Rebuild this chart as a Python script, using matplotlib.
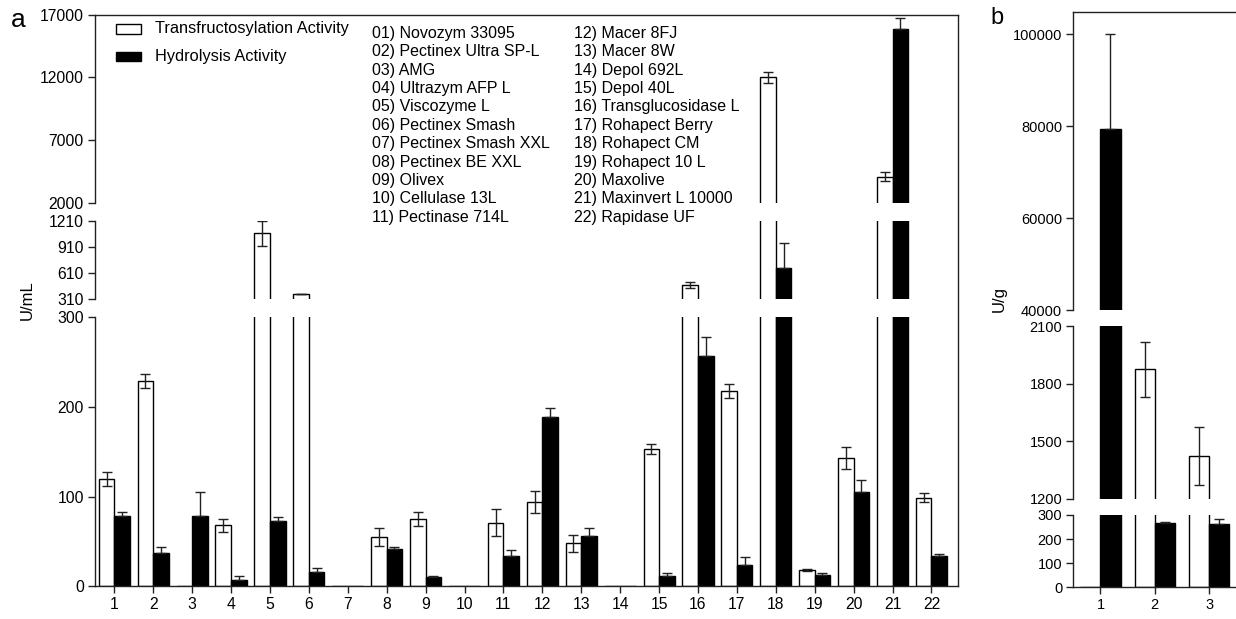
import numpy as np
import matplotlib
matplotlib.use("Agg")
import matplotlib.pyplot as plt
from matplotlib.lines import Line2D
from matplotlib.patches import Rectangle

plt.rcParams['font.family'] = ['Liberation Sans', 'DejaVu Sans']

W, H = 1236, 619

# panel a: 22 enzyme preparations (U/mL)
enzymes = ["Novozym 33095", "Pectinex Ultra SP-L", "AMG", "Ultrazym AFP L",
           "Viscozyme L", "Pectinex Smash", "Pectinex Smash XXL", "Pectinex BE XXL",
           "Olivex", "Cellulase 13L", "Pectinase 714L", "Macer 8FJ", "Macer 8W",
           "Depol 692L", "Depol 40L", "Transglucosidase L", "Rohapect Berry",
           "Rohapect CM", "Rohapect 10 L", "Maxolive", "Maxinvert L 10000",
           "Rapidase UF"]
trans = np.array([120, 229, 0, 68, 1065, 370, 0, 55, 75, 0, 71, 94, 48, 0,
                  153, 475, 218, 12000, 18, 143, 4100, 99])
trans_err = np.array([8, 8, 0, 7, 145, 5, 0, 10, 8, 0, 15, 12, 9.5, 0,
                      6, 30, 7.5, 450, 1, 12, 350, 4.5])
hydro = np.array([78, 37, 78, 7, 73, 16, 0, 42, 10.5, 0, 34, 189, 56, 0,
                  12, 257, 24, 670, 12.5, 105, 15900, 34])
hydro_err = np.array([5, 7, 27, 4, 4, 4, 0, 2, 1.5, 0, 6, 10, 9, 0,
                      3, 21, 9, 285, 2.5, 13, 850, 2])

# panel b: 3 samples (U/g)
b_trans = np.array([0, 1874, 1424])
b_trans_err = np.array([0, 145, 150])
b_hydro = np.array([79300, 268, 264])
b_hydro_err = np.array([20700, 2, 19])

legend_labels = ["Transfructosylation Activity", "Hydrolysis Activity"]

fig = plt.figure(figsize=(W / 100, H / 100), dpi=100)


def px_axes(x0, x1, ytop, ybot):
    return fig.add_axes([x0 / W, 1 - ybot / H, (x1 - x0) / W, (ybot - ytop) / H])


def draw_bars(ax, pos, w, t, te, h, he):
    ax.bar(pos - w / 2, t, w, color='white', edgecolor='black', linewidth=1)
    ax.bar(pos + w / 2, h, w, color='black', edgecolor='black', linewidth=1)
    m = te > 0
    ax.errorbar(pos[m] - w / 2, t[m], yerr=te[m], fmt='none', ecolor='#222222',
                elinewidth=1, capsize=3.4, capthick=1)
    # black bars: only the upper half of the error bar shows
    m = he > 0
    ax.errorbar(pos[m] + w / 2, h[m], yerr=[np.zeros(m.sum()), he[m]], fmt='none',
                ecolor='#222222', elinewidth=1, capsize=3.4, capthick=1)


def style(ax, which, ylim, yticks, xlim, fs):
    ax.set_ylim(*ylim)
    ax.set_yticks(yticks)
    ax.set_xlim(*xlim)
    ax.spines['right'].set_visible(False)
    ax.spines['top'].set_visible(which == 'top')
    ax.spines['bottom'].set_visible(which == 'bot')
    for s in ax.spines.values():
        s.set_linewidth(1)
        s.set_color('#222222')
    ax.tick_params(axis='y', length=5, width=1, pad=3, labelsize=fs, colors='#222222',
                   labelcolor='black')
    if which == 'bot':
        ax.tick_params(axis='x', length=5, width=1, pad=3, labelsize=fs,
                       colors='#222222', labelcolor='black')
    else:
        ax.tick_params(axis='x', bottom=False, labelbottom=False)
    ax.patch.set_alpha(0)


pos_a = np.arange(1, len(trans) + 1)
segments_a = [('top', 14.7, 203, (2000, 17000), [2000, 7000, 12000, 17000]),
              ('mid', 220.7, 299.3, (310, 1210), [310, 610, 910, 1210]),
              ('bot', 317.3, 586.3, (0, 300), [0, 100, 200, 300])]
for which, yt, yb, ylim, yticks in segments_a:
    ax = px_axes(95, 958.3, yt, yb)
    draw_bars(ax, pos_a, 0.4, trans, trans_err, hydro, hydro_err)
    style(ax, which, ylim, yticks, (0.504, 22.69), 11.3)
    if which == 'bot':
        ax.set_xticks(pos_a)

# continuous right border of panel a
fig.add_artist(Line2D([958.3 / W, 958.3 / W], [1 - 586.3 / H, 1 - 14.7 / H],
                      color='#222222', linewidth=1, transform=fig.transFigure))

pos_b = np.arange(1, len(b_trans) + 1)
segments_b = [('top', 11.7, 310, (40000, 104900), [40000, 60000, 80000, 100000]),
              ('mid', 326, 499, (1200, 2100), [1200, 1500, 1800, 2100]),
              ('bot', 515, 587.3, (0, 300), [0, 100, 200, 300])]
for which, yt, yb, ylim, yticks in segments_b:
    ax = px_axes(1073.3, 1236.2, yt, yb)
    draw_bars(ax, pos_b, 0.37, b_trans, b_trans_err, b_hydro, b_hydro_err)
    style(ax, which, ylim, yticks, (0.5, 3.5), 10.5)
    if which == 'bot':
        ax.set_xticks(pos_b)

# legend
for i, (lab, fc) in enumerate(zip(legend_labels, ['white', 'black'])):
    yc = [29.0, 56.7][i]
    fig.add_artist(Rectangle((116 / W, 1 - (yc + 4.5) / H), 25 / W, 9 / H,
                             facecolor=fc, edgecolor='black', linewidth=1,
                             transform=fig.transFigure))
    fig.text(155.3 / W, 1 - yc / H, lab, fontsize=11.8, va='center', ha='left')

# enzyme list
for i, name in enumerate(enzymes):
    col, row = divmod(i, 11)
    x = [371.7, 574.5][col]
    y = 33.3 + row * 18.4
    fig.text(x / W, 1 - y / H, f"{i + 1:02d}) {name}", fontsize=11.5,
             va='center', ha='left')

fig.text(18 / W, 1 - 20 / H, "a", fontsize=19, va='center', ha='center')
fig.text(997 / W, 1 - 18 / H, "b", fontsize=17, va='center', ha='center')
fig.text(27 / W, 1 - 300 / H, "U/mL", fontsize=12, rotation=90, va='center', ha='center')
fig.text(999 / W, 1 - 298.5 / H, "U/g", fontsize=12, rotation=90, va='center', ha='center')

fig.savefig("out.png", dpi=100)
